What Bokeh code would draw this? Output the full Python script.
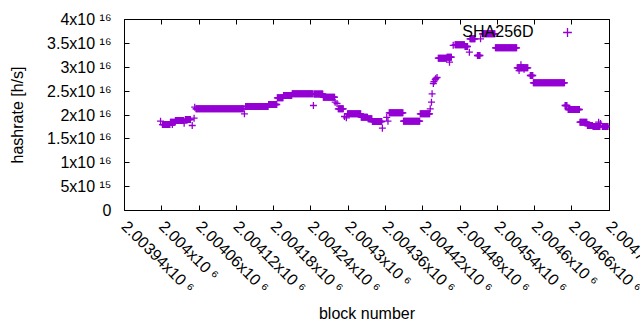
import math
from bokeh.plotting import figure
from bokeh.models import (FixedTicker, LinearAxis, Range1d, Label, Legend,
                          LegendItem, ColumnDataSource)
from bokeh.core.properties import value
from bokeh.embed import file_html
from bokeh.resources import INLINE

# ---- data: runs of blocks with a constant hashrate estimate ----
seg_start = [2004001, 2004014, 2004022, 2004038, 2004055, 2004135, 2004172,
             2004186, 2004196, 2004210, 2004245, 2004260, 2004284, 2004299,
             2004321, 2004332, 2004339, 2004366, 2004389, 2004416, 2004445,
             2004459, 2004472, 2004488, 2004496, 2004508, 2004516, 2004537,
             2004572, 2004593, 2004598, 2004649, 2004654, 2004673, 2004685,
             2004694, 2004709]
seg_end = [2004013, 2004021, 2004035, 2004046, 2004131, 2004171, 2004185,
           2004195, 2004209, 2004243, 2004259, 2004278, 2004292, 2004320,
           2004331, 2004338, 2004354, 2004388, 2004415, 2004431, 2004458,
           2004466, 2004487, 2004492, 2004504, 2004512, 2004536, 2004571,
           2004589, 2004597, 2004648, 2004652, 2004672, 2004684, 2004693,
           2004705, 2004718]
seg_rate = [1.80e16, 1.85e16, 1.885e16, 1.906e16, 2.13e16, 2.178e16, 2.22e16,
            2.36e16, 2.408e16, 2.444e16, 2.44e16, 2.373e16, 2.13e16, 2.025e16,
            1.954e16, 1.92e16, 1.864e16, 2.046e16, 1.87e16, 2.025e16, 3.19e16,
            3.21e16, 3.47e16, 3.435e16, 3.596e16, 3.246e16, 3.70e16, 3.407e16,
            2.988e16, 2.827e16, 2.674e16, 2.199e16, 2.115e16, 1.849e16, 1.78e16,
            1.759e16, 1.759e16]

# ---- data: isolated blocks ----
iso_block = [2003998, 2004017, 2004036, 2004049, 2004052, 2004053, 2004133,
             2004244, 2004279, 2004282, 2004294, 2004297, 2004355, 2004362,
             2004364, 2004432, 2004434, 2004435, 2004437, 2004438, 2004440,
             2004441, 2004443, 2004463, 2004469, 2004495, 2004513, 2004575,
             2004578, 2004583, 2004703, 2004706]
iso_rate = [1.87e16, 1.80e16, 1.828e16, 1.78e16, 1.933e16, 2.163e16, 2.025e16,
            2.199e16, 2.268e16, 2.241e16, 1.969e16, 1.941e16, 1.724e16, 1.95e16,
            1.87e16, 2.13e16, 2.268e16, 2.444e16, 2.66e16, 2.70e16, 2.74e16,
            2.764e16, 2.785e16, 3.106e16, 3.46e16, 3.315e16, 3.596e16, 2.93e16,
            3.05e16, 2.96e16, 1.849e16, 1.82e16]

x_ticks = [2003940, 2004000, 2004060, 2004120, 2004180, 2004240, 2004300,
           2004360, 2004420, 2004480, 2004540, 2004600, 2004660, 2004720]
x_tick_labels = ["2.00394x10 \u2076", "2.004x10 \u2076", "2.00406x10 \u2076",
                 "2.00412x10 \u2076", "2.00418x10 \u2076", "2.00424x10 \u2076",
                 "2.0043x10 \u2076", "2.00436x10 \u2076", "2.00442x10 \u2076",
                 "2.00448x10 \u2076", "2.00454x10 \u2076", "2.0046x10 \u2076",
                 "2.00466x10 \u2076", "2.00472x10 \u2076"]
y_ticks = [0.0, 5e15, 1e16, 1.5e16, 2e16, 2.5e16, 3e16, 3.5e16, 4e16]
y_tick_labels = ["0", "5x10 \u00b9\u2075", "1x10 \u00b9\u2076", "1.5x10 \u00b9\u2076",
                 "2x10 \u00b9\u2076", "2.5x10 \u00b9\u2076", "3x10 \u00b9\u2076",
                 "3.5x10 \u00b9\u2076", "4x10 \u00b9\u2076"]

series_name = "SHA256D"

blocks, rates = [], []
for s, e, r in zip(seg_start, seg_end, seg_rate):
    for b in range(s, e + 1):
        blocks.append(b)
        rates.append(r)
blocks += iso_block
rates += iso_rate

FONT = "Liberation Sans"
COLOR = "#9400D3"

# Bokeh nudges the outermost tick label back inside the canvas; a label-less
# guard tick a hair past the last one lets the last label run off the edge
# exactly as in the original.
guard_tick = x_ticks[-1] + 0.4
x_end = x_ticks[-1] + 0.5

p = figure(width=640, height=330, output_backend="svg", toolbar_location=None,
           x_range=Range1d(x_ticks[0], x_end), y_range=Range1d(y_ticks[0], y_ticks[-1]),
           min_border_left=124, min_border_right=31, min_border_top=19,
           min_border_bottom=120)
p.xgrid.visible = False
p.ygrid.visible = False
p.outline_line_color = "black"
p.outline_line_width = 1
p.background_fill_color = "white"
p.border_fill_color = "white"

src = ColumnDataSource(dict(block=blocks, rate=rates))
r = p.scatter("block", "rate", source=src, marker="cross", size=7,
              line_color=COLOR, line_width=1.3)


def style(ax):
    ax.axis_line_color = None
    ax.major_tick_in = 5
    ax.major_tick_out = 0
    ax.major_tick_line_color = "black"
    ax.minor_tick_line_color = None
    ax.major_label_text_font = FONT
    ax.major_label_text_font_size = "16px"
    ax.major_label_text_color = "black"
    ax.axis_label_text_font = FONT
    ax.axis_label_text_font_size = "16px"
    ax.axis_label_text_font_style = "normal"
    ax.axis_label_text_color = "black"


xa = p.xaxis[0]
style(xa)
xa.ticker = FixedTicker(ticks=x_ticks + [guard_tick])
overrides = {float(t): l for t, l in zip(x_ticks, x_tick_labels)}
overrides[float(guard_tick)] = ""
xa.major_label_overrides = overrides
xa.major_label_orientation = -math.pi / 4
xa.major_label_standoff = 13
xa.axis_label = "block number"
xa.axis_label_standoff = 0

ya = p.yaxis[0]
style(ya)
ya.ticker = FixedTicker(ticks=y_ticks)
ya.major_label_overrides = {float(t): l for t, l in zip(y_ticks, y_tick_labels)}
ya.major_label_standoff = 13
ya.axis_label = "hashrate [h/s]"
ya.axis_label_standoff = 18

ra = LinearAxis(ticker=FixedTicker(ticks=y_ticks))
style(ra)
ra.major_label_overrides = {float(t): "" for t in y_ticks}
ra.major_label_text_font_size = "0px"
ra.major_label_standoff = 0
p.add_layout(ra, "right")

ta = LinearAxis(ticker=FixedTicker(ticks=x_ticks))
style(ta)
ta.major_label_overrides = {float(t): "" for t in x_ticks}
ta.major_label_text_font_size = "0px"
ta.major_label_standoff = 0
p.add_layout(ta, "above")

legend = Legend(items=[LegendItem(label=value(" "), renderers=[r])],
                location=(432, 167), background_fill_alpha=0, border_line_alpha=0,
                padding=0, margin=0, glyph_width=22, glyph_height=22,
                label_standoff=0, label_width=2, label_height=10,
                label_text_font_size="2px")
p.add_layout(legend)

p.add_layout(Label(x=409, y=179, x_units="screen", y_units="screen", text=series_name,
                   text_align="right", text_baseline="middle", text_font=FONT,
                   text_font_size="16px", text_color="black"))

open("out.html", "w").write(file_html(p, INLINE))
